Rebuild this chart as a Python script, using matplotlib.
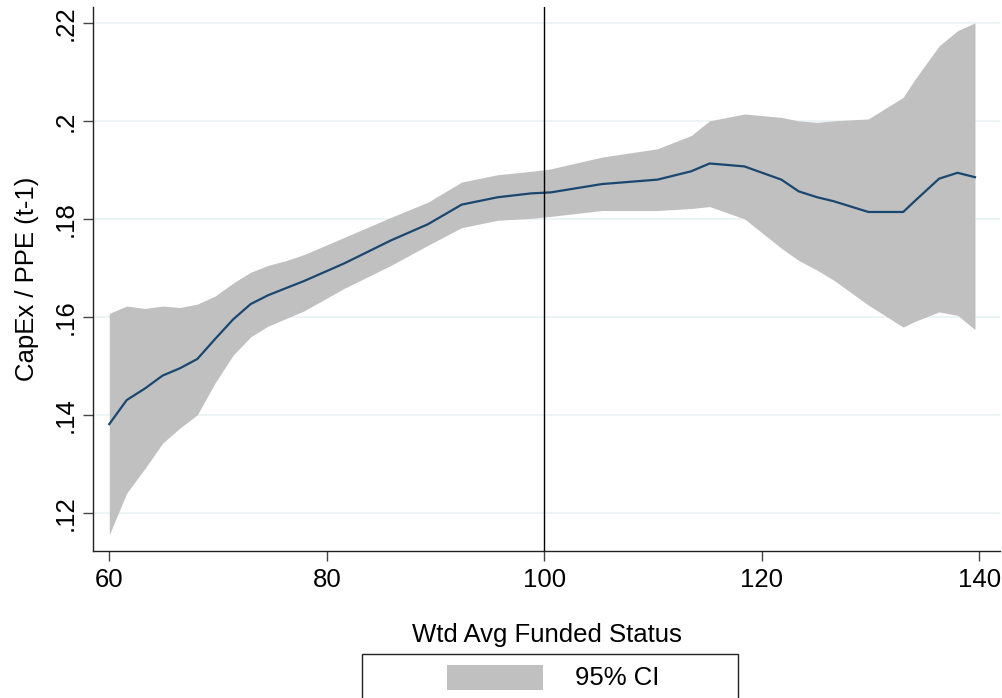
import matplotlib
matplotlib.use("Agg")
import matplotlib.pyplot as plt
from matplotlib.patches import Rectangle

plt.rcParams['font.family'] = ['Liberation Sans', 'DejaVu Sans']

# funded status grid (x) and fitted capex ratio with 95% CI
funded = [60, 61.6, 63.3, 64.9, 66.5, 68.1, 69.7, 71.4, 73.0, 74.6,
          76.3, 77.9, 81.6, 85.9, 89.3, 92.4, 95.7, 98.8, 100.6, 105.3,
          110.4, 113.5, 115.2, 118.4, 121.8, 123.4, 125.1, 126.6, 129.8, 133.0,
          134.0, 136.3, 138.0, 139.6]
fit = [0.1381, 0.1430, 0.1454, 0.1480, 0.1495, 0.1514, 0.1554, 0.1595, 0.1626, 0.1644,
       0.1659, 0.1673, 0.1709, 0.1756, 0.1789, 0.1829, 0.1844, 0.1852, 0.1854, 0.1871,
       0.1880, 0.1897, 0.1913, 0.1907, 0.1880, 0.1856, 0.1844, 0.1836, 0.1814, 0.1814,
       0.1835, 0.1882, 0.1894, 0.1885]
ci_hi = [0.1607, 0.1622, 0.1617, 0.1622, 0.1619, 0.1626, 0.1642, 0.1669, 0.1691, 0.1705,
         0.1715, 0.1727, 0.1762, 0.1803, 0.1834, 0.1875, 0.1890, 0.1897, 0.1902, 0.1926,
         0.1943, 0.1970, 0.2000, 0.2014, 0.2007, 0.2000, 0.1997, 0.2000, 0.2004, 0.2048,
         0.2082, 0.2153, 0.2184, 0.2200]
ci_lo = [0.1155, 0.1240, 0.1291, 0.1342, 0.1373, 0.1400, 0.1464, 0.1522, 0.1559, 0.1581,
         0.1597, 0.1612, 0.1658, 0.1705, 0.1746, 0.1782, 0.1797, 0.1801, 0.1805, 0.1817,
         0.1817, 0.1821, 0.1825, 0.1800, 0.1740, 0.1715, 0.1695, 0.1675, 0.1624, 0.1579,
         0.1590, 0.1610, 0.1603, 0.1574]

xticks = [60, 80, 100, 120, 140]
yticks = [0.12, 0.14, 0.16, 0.18, 0.20, 0.22]
ytick_labels = ['.12', '.14', '.16', '.18', '.2', '.22']

FS = 18.5

fig = plt.figure(figsize=(10.03, 6.98), dpi=100)
ax = fig.add_axes([0.0930, 0.2106, 0.9040, 0.7798])

band_color = '#c0c0c0'
ax.fill_between(funded, ci_lo, ci_hi, color=band_color, lw=0, zorder=2)
ax.plot(funded, fit, color='#1a476f', lw=1.6, zorder=3)
ax.axvline(100, color='black', lw=1, zorder=4)

ax.set_xlim(58.53, 141.9)
ax.set_ylim(0.1122, 0.2233)
ax.set_xticks(xticks)
ax.set_yticks(yticks)
ax.set_yticklabels(ytick_labels, rotation=90, va='center')
ax.grid(axis='y', color='#eaf2f3', lw=1.2, zorder=0)
ax.set_axisbelow(True)

for s in ['top', 'right']:
    ax.spines[s].set_visible(False)
for s in ['left', 'bottom']:
    ax.spines[s].set_linewidth(1)
    ax.spines[s].set_color('#222222')
ax.tick_params(axis='both', length=7.5, width=1, color='#444444', labelsize=FS)
ax.tick_params(axis='x', pad=5)
ax.tick_params(axis='y', pad=4)

ax.set_xlabel('Wtd Avg Funded Status', fontsize=FS, labelpad=22)
ax.set_ylabel('CapEx / PPE (t-1)', fontsize=FS, labelpad=10)

# legend box (Stata style, partly cut off at bottom)
W, H = 1003.0, 698.0
fig.patches.append(Rectangle((362 / W, -0.05), (738 - 362) / W, (1 - 654 / H) + 0.05,
                             transform=fig.transFigure, fill=False,
                             edgecolor='#222222', lw=1))
fig.patches.append(Rectangle((447 / W, 1 - 690 / H), (543 - 447) / W, 25 / H,
                             transform=fig.transFigure, facecolor=band_color,
                             edgecolor='none'))
fig.text(575 / W, 1 - 678 / H, '95% CI', fontsize=FS, va='center', ha='left')

fig.savefig('out.png', dpi=100)
